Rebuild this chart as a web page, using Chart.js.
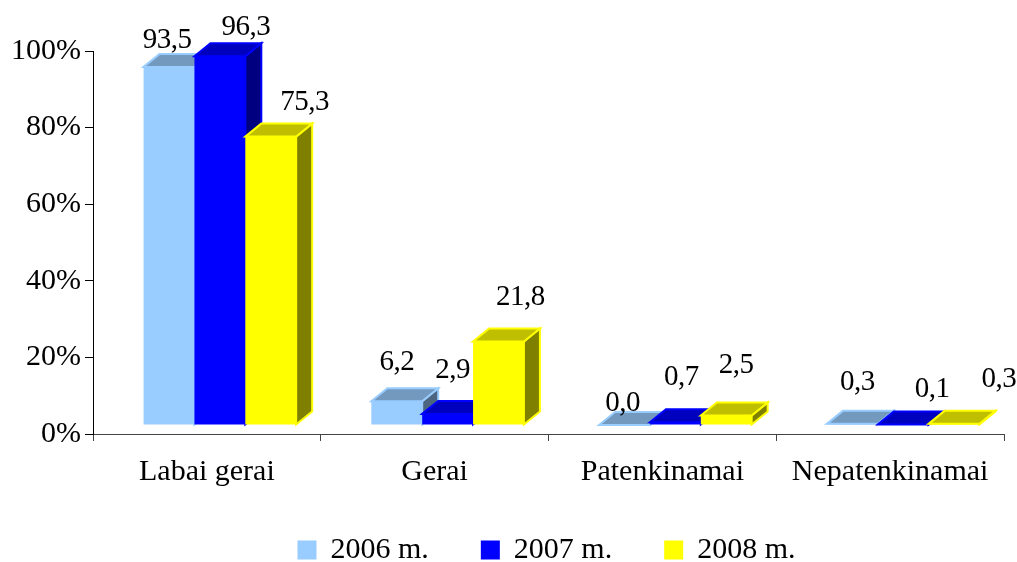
<!DOCTYPE html>
<html>
<head>
<meta charset="utf-8">
<title>Chart</title>
<script src="https://cdn.jsdelivr.net/npm/chart.js@4"></script>
<style>
    html, body { margin: 0; background: #fff; }
    #box { width: 1017px; height: 562px; }
</style>
</head>
<body>
<div id="box"><canvas id="gerumoChart"></canvas></div>
<script>
var categories = ['Labai gerai', 'Gerai', 'Patenkinamai', 'Nepatenkinamai'];
var seriesNames = ['2006 m.', '2007 m.', '2008 m.'];
var values2006 = [93.5, 6.2, 0.0, 0.3];
var values2007 = [96.3, 2.9, 0.7, 0.1];
var values2008 = [75.3, 21.8, 2.5, 0.3];
var yTicks = [0, 20, 40, 60, 80, 100];

// the value labels are hand placed in the original, so each has its own shift from the bar top
var labelShift = [
    [[-2, -27], [0, -39], [-2, -22], [5, -41]],
    [[26, -29], [5, -44], [6, -45], [29, -35]],
    [[34, -34], [22, -44], [10, -50], [45, -44]]
];

var FONT = '"Liberation Serif", "Times New Roman", serif';
// front faces sit up and to the right of the axes, the depth goes further that way
var frontShift = { x: 13, y: -9 };
var depth = { x: 16, y: -13 };

function shade(rgb, k) {
    return 'rgb(' + rgb.map(function(c) { return Math.round(c * k); }).join(',') + ')';
}

var colours = [[153, 204, 255], [0, 0, 255], [255, 255, 0]];

function drawFaces(ctx, bar, rgb) {
    var l = bar.x - bar.width / 2, r = bar.x + bar.width / 2;
    var t = bar.y, b = bar.base;
    // side
    ctx.fillStyle = shade(rgb, 0.5);
    ctx.beginPath();
    ctx.moveTo(r, t);
    ctx.lineTo(r + depth.x, t + depth.y);
    ctx.lineTo(r + depth.x, b + depth.y);
    ctx.lineTo(r, b);
    ctx.closePath();
    ctx.fill();
    ctx.stroke();
    // top
    ctx.fillStyle = shade(rgb, 0.75);
    ctx.beginPath();
    ctx.moveTo(l, t);
    ctx.lineTo(l + depth.x, t + depth.y);
    ctx.lineTo(r + depth.x, t + depth.y);
    ctx.lineTo(r, t);
    ctx.closePath();
    ctx.fill();
    ctx.stroke();
}

var bars3d = {
    id: 'bars3d',
    afterLayout: function(chart) {
        // the wide legend padding also pads it vertically and pushes it off centre, put it back
        chart.legend.top -= 10;
        chart.legend.left += 45;
        chart.legend.right += 45;
    },
    // 2006 has to go first so the later years cover its side, the default order is the other way round
    beforeDatasetsDraw: function(chart) {
        var ctx = chart.ctx;
        ctx.save();
        ctx.translate(frontShift.x, frontShift.y);
        ctx.lineWidth = 2;
        chart.data.datasets.forEach(function(ds, i) {
            var meta = chart.getDatasetMeta(i);
            ctx.strokeStyle = shade(colours[i], 1);
            meta.data.forEach(function(bar) {
                drawFaces(ctx, bar, colours[i]);
            });
            meta.controller.draw();
        });
        ctx.restore();
        return false;
    },
    afterDraw: function(chart) {
        var ctx = chart.ctx;
        ctx.save();
        ctx.font = '29px ' + FONT;
        ctx.letterSpacing = '-0.5px';
        ctx.fillStyle = '#000';
        ctx.textAlign = 'center';
        ctx.textBaseline = 'middle';
        chart.data.datasets.forEach(function(ds, i) {
            chart.getDatasetMeta(i).data.forEach(function(bar, j) {
                var txt = ds.data[j].toFixed(1).replace('.', ',');
                ctx.fillText(txt,
                    bar.x + frontShift.x + labelShift[i][j][0],
                    bar.y + frontShift.y + labelShift[i][j][1]);
            });
        });
        ctx.restore();
    }
};

function makeDataset(name, data, i) {
    return {
        label: name,
        data: data,
        backgroundColor: shade(colours[i], 1),
        borderColor: shade(colours[i], 1),
        borderWidth: 0,
        categoryPercentage: 0.67,
        barPercentage: 1
    };
}

new Chart(document.getElementById('gerumoChart').getContext('2d'), {
    type: 'bar',
    data: {
        labels: categories,
        datasets: [
            makeDataset(seriesNames[0], values2006, 0),
            makeDataset(seriesNames[1], values2007, 1),
            makeDataset(seriesNames[2], values2008, 2)
        ]
    },
    plugins: [bars3d],
    options: {
        responsive: true,
        maintainAspectRatio: false,
        animation: false,
        layout: { padding: { left: 0, right: 13, top: 51, bottom: -23 } },
        plugins: {
            tooltip: { enabled: false },
            legend: {
                position: 'bottom',
                labels: {
                    color: '#000',
                    font: { family: FONT, size: 30 },
                    boxWidth: 17,
                    boxHeight: 17,
                    padding: 53,
                    generateLabels: function(chart) {
                        return chart.data.datasets.map(function(ds, i) {
                            return {
                                text: ds.label,
                                fillStyle: ds.backgroundColor,
                                strokeStyle: ds.backgroundColor,
                                lineWidth: 2,
                                datasetIndex: i
                            };
                        });
                    }
                }
            }
        },
        scales: {
            x: {
                afterFit: function(scale) { scale.height = 58; },
                grid: { offset: true, drawOnChartArea: false, color: '#444', tickLength: 7 },
                border: { color: '#444', width: 1 },
                ticks: {
                    color: '#000',
                    padding: 13,
                    maxRotation: 0,
                    autoSkip: false,
                    font: { family: FONT, size: 30 }
                }
            },
            y: {
                min: 0,
                max: 100,
                afterFit: function(scale) { scale.width = 93; },
                afterBuildTicks: function(scale) {
                    scale.ticks = yTicks.map(function(v) { return { value: v }; });
                },
                grid: { drawOnChartArea: false, color: '#000', tickLength: 8 },
                border: { color: '#000', width: 1 },
                ticks: {
                    color: '#000',
                    padding: 4,
                    font: { family: FONT, size: 30 },
                    callback: function(v) { return v + '%'; }
                }
            }
        }
    }
});
</script>
</body>
</html>
